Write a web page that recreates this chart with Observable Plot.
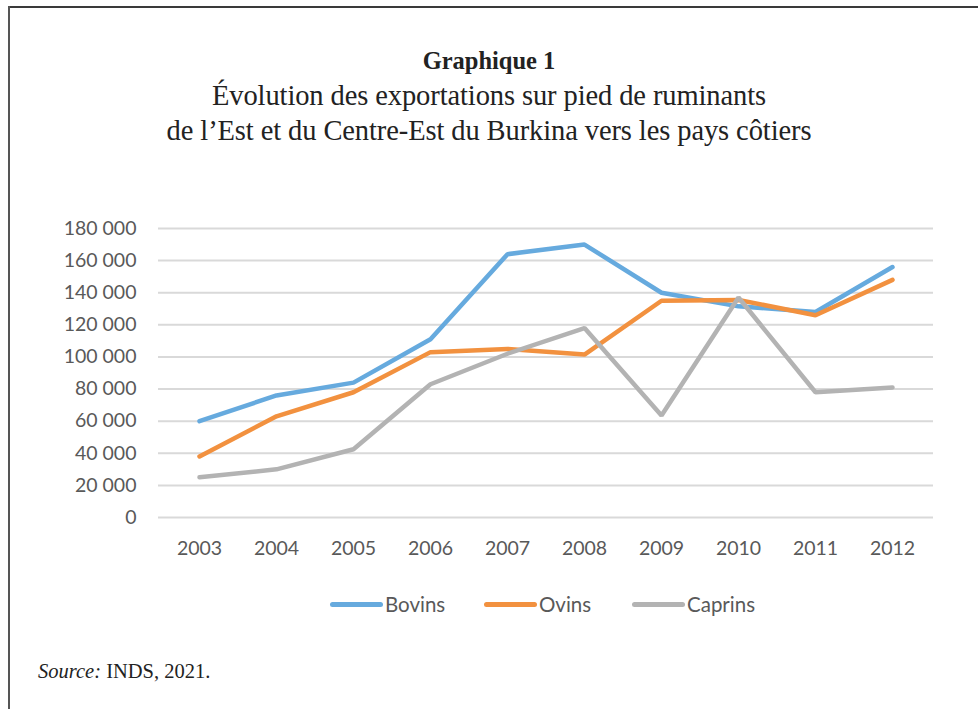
<!DOCTYPE html>
<html>
<head>
<meta charset="utf-8">
<script src="https://cdn.jsdelivr.net/npm/d3@7"></script>
<script src="https://cdn.jsdelivr.net/npm/@observablehq/plot@0.6"></script>
<style>
  html, body { margin: 0; padding: 0; background: #fff; }
  #page { position: relative; width: 978px; height: 709px; overflow: hidden; background: #fff; }
  #frameTop { position: absolute; left: 8px; top: 6px; width: 970px; height: 2px; background: #3a3a3a; }
  #frameLeft { position: absolute; left: 8px; top: 6px; width: 2px; height: 703px; background: #555; }
  #title { position: absolute; left: 0; width: 978px; top: 44px; text-align: center;
    font-family: "Liberation Serif", "DejaVu Serif", serif; color: #222; }
  #title .t1 { font-weight: bold; font-size: 24.5px; line-height: 34px; }
  #title .t2 { font-size: 28.5px; line-height: 35px; letter-spacing: -0.1px; }
  #chart { position: absolute; left: 0; top: 210px; }
  #legend { position: absolute; left: 0; width: 978px; top: 590px; height: 28px;
    font-family: Lato, "Open Sans", sans-serif; font-size: 20.5px; color: #595959; }
  .item { position: absolute; top: 0; display: flex; align-items: center; height: 28px; }
  .sw { width: 53px; height: 5px; border-radius: 3px; margin-right: 2px; }
  #source { position: absolute; left: 38px; top: 660px; font-family: "Liberation Serif", serif; font-size: 20.5px; color: #222; }
</style>
</head>
<body>
<div id="page">
  <div id="frameTop"></div>
  <div id="frameLeft"></div>
  <div id="title">
    <div class="t1">Graphique 1</div>
    <div class="t2">Évolution des exportations sur pied de ruminants</div>
    <div class="t2">de l’Est et du Centre-Est du Burkina vers les pays côtiers</div>
  </div>
  <div id="chart"></div>
  <div id="legend"></div>
  <div id="source"><i>Source:</i> INDS, 2021.</div>
</div>
<script>
const years = ["2003","2004","2005","2006","2007","2008","2009","2010","2011","2012"];
const bovins  = [60000, 76000, 84000, 111000, 164000, 170000, 140000, 131500, 128000, 156000];
const ovins   = [38000, 63000, 78000, 103000, 105000, 101500, 135000, 135500, 126000, 148000];
const caprins = [25000, 30000, 42500, 83000, 102000, 118000, 63500, 137000, 78000, 81000];
const seriesNames = ["Bovins", "Ovins", "Caprins"];
const seriesColors = ["#66aade", "#f2913f", "#b3b3b3"];
const yTicks = [0, 20000, 40000, 60000, 80000, 100000, 120000, 140000, 160000, 180000];

const seriesValues = [bovins, ovins, caprins];
const data = [];
seriesNames.forEach((s, i) => years.forEach((y, j) => data.push({year: y, value: seriesValues[i][j], series: s})));

const fmt = v => v === 0 ? "0" : d3.format(",")(v).replace(/,/g, " ");

const chart = Plot.plot({
  width: 978,
  height: 360,
  marginLeft: 158,
  marginRight: 45,
  marginTop: 18,
  marginBottom: 53,
  style: { fontFamily: "Lato, 'Open Sans', sans-serif", fontSize: "19.5px", color: "#595959", background: "transparent" },
  x: { type: "point", domain: years, padding: 0.5, label: null, tickSize: 0, tickPadding: 24 },
  y: { domain: [0, 180000], ticks: yTicks, tickFormat: fmt, label: null, tickSize: 0, tickPadding: 22 },
  color: { domain: seriesNames, range: seriesColors },
  marks: [
    Plot.ruleY(yTicks, { stroke: "#d9d9d9", strokeWidth: 2 }),
    Plot.axisX({ tickSize: 0, tickPadding: 24, fill: "#595959" }),
    Plot.axisY({ ticks: yTicks, tickFormat: fmt, tickSize: 0, tickPadding: 22, fill: "#595959" }),
    Plot.line(data, { x: "year", y: "value", z: "series", stroke: "series", strokeWidth: 4.5, strokeLinejoin: "miter", strokeLinecap: "round" })
  ]
});
document.getElementById("chart").appendChild(chart);

const legend = document.getElementById("legend");
const lx = [330, 484, 632];
seriesNames.forEach((s, i) => {
  const it = document.createElement("div");
  it.className = "item";
  it.style.left = lx[i] + "px";
  const sw = document.createElement("div");
  sw.className = "sw";
  sw.style.background = seriesColors[i];
  const tx = document.createElement("span");
  tx.textContent = s;
  it.appendChild(sw); it.appendChild(tx);
  legend.appendChild(it);
});
</script>
</body>
</html>
